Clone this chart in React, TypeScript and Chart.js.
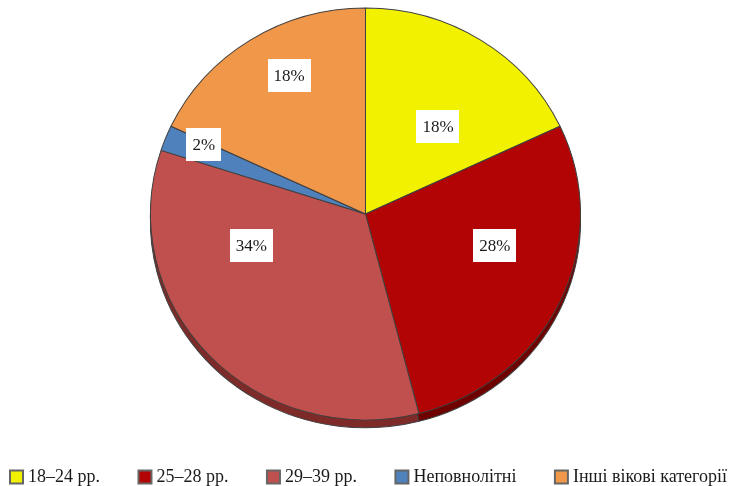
import React, { useEffect, useRef } from "react";
import { Chart, registerables } from "chart.js";

Chart.register(...registerables);

const categories = ["18–24 рр.", "25–28 рр.", "29–39 рр.", "Неповнолітні", "Інші вікові категорії"];
const shares = [18, 28, 34, 2, 18];
const sliceColors = ["#F2F200", "#B20404", "#C0504D", "#4F81BD", "#F0974A"];
const rimColors = ["#A8A800", "#6E0000", "#7E2A28", "#2F527E", "#A85F26"];

// label placement: angle (deg clockwise from top) and fraction of radius
const labelPlacement = [
  { a: 40, r: 0.535 },
  { a: 104, r: 0.632 },
  { a: 254, r: 0.563 },
  { a: 293, r: 0.833 },
  { a: 331, r: 0.746 },
];

const FONT = "'Liberation Serif', 'DejaVu Serif', serif";
const SCALE_X = 215 / 211;
const SCALE_Y = 206 / 211;

const ellipsePlugin = {
  id: "ellipse",
  beforeDatasetsDraw(chart: any) {
    const arc = chart.getDatasetMeta(0).data[0];
    const ctx = chart.ctx;
    ctx.save();
    if (arc) {
      ctx.translate(arc.x, arc.y);
      ctx.scale(SCALE_X, SCALE_Y);
      ctx.translate(-arc.x, -arc.y);
    }
  },
  afterDatasetsDraw(chart: any) {
    chart.ctx.restore();
  },
};

const rimPlugin = {
  id: "rim",
  beforeDatasetsDraw(chart: any) {
    const meta = chart.getDatasetMeta(0);
    const ctx = chart.ctx;
    ctx.save();
    meta.data.forEach((arc: any, i: number) => {
      const { x, y, startAngle, endAngle, outerRadius } = arc.getProps(
        ["x", "y", "startAngle", "endAngle", "outerRadius"],
        true
      );
      ctx.beginPath();
      ctx.moveTo(x, y + 8);
      ctx.arc(x, y + 8, outerRadius, startAngle, endAngle);
      ctx.closePath();
      ctx.fillStyle = rimColors[i];
      ctx.fill();
      ctx.strokeStyle = "#404040";
      ctx.lineWidth = 1;
      ctx.stroke();
    });
    ctx.restore();
  },
};

const labelPlugin = {
  id: "sliceLabels",
  afterDatasetsDraw(chart: any) {
    const meta = chart.getDatasetMeta(0);
    const ctx = chart.ctx;
    ctx.save();
    ctx.font = `17px ${FONT}`;
    ctx.textAlign = "center";
    ctx.textBaseline = "middle";
    meta.data.forEach((arc: any, i: number) => {
      const { x, y, outerRadius } = arc.getProps(["x", "y", "outerRadius"], true);
      const p = labelPlacement[i];
      const ang = (p.a * Math.PI) / 180;
      const lx = x + Math.sin(ang) * outerRadius * p.r;
      const ly = y - 1 - Math.cos(ang) * outerRadius * p.r;
      const text = `${shares[i]}%`;
      const w = ctx.measureText(text).width + 12;
      const h = 33;
      ctx.fillStyle = "#FFFFFF";
      ctx.fillRect(Math.round(lx - w / 2), Math.round(ly - h / 2), Math.round(w), h);
      ctx.fillStyle = "#1a1a1a";
      ctx.fillText(text, lx, ly + 1);
    });
    ctx.restore();
  },
};

const legendPlugin = {
  id: "bottomLegend",
  afterDraw(chart: any) {
    const ctx = chart.ctx;
    ctx.save();
    ctx.font = `18px ${FONT}`;
    ctx.textBaseline = "middle";
    ctx.textAlign = "left";
    const box = 13;
    const textGap = 5;
    const widths = categories.map((c) => box + textGap + ctx.measureText(c).width);
    const left = 10;
    const right = 727;
    const total = widths.reduce((s, w) => s + w, 0);
    const gap = (right - left - total) / (categories.length - 1);
    const yMid = 477;
    let x = left;
    categories.forEach((c, i) => {
      ctx.fillStyle = sliceColors[i];
      ctx.fillRect(x, yMid - box / 2, box, box);
      ctx.strokeStyle = "#666666";
      ctx.lineWidth = 2;
      ctx.strokeRect(x, yMid - box / 2, box, box);
      ctx.fillStyle = "#1a1a1a";
      ctx.fillText(c, x + box + textGap, yMid);
      x += widths[i] + gap;
    });
    ctx.restore();
  },
};

export default function App() {
  const ref = useRef<HTMLCanvasElement | null>(null);

  useEffect(() => {
    if (!ref.current) return;
    const chart = new Chart(ref.current, {
      type: "pie",
      data: {
        labels: categories,
        datasets: [
          {
            data: shares,
            backgroundColor: sliceColors,
            borderColor: "#404040",
            borderWidth: 1,
            radius: 211,
          },
        ],
      },
      options: {
        responsive: false,
        animation: false,
        layout: { padding: { top: 0, bottom: 58, left: 0, right: 0 } },
        plugins: {
          tooltip: { enabled: false },
          legend: { display: false },
        },
      },
      plugins: [ellipsePlugin, rimPlugin, labelPlugin, legendPlugin],
    });
    return () => chart.destroy();
  }, []);

  return (
    <div style={{ position: "fixed", left: 0, top: 0, width: 731, height: 486, overflow: "hidden", background: "#fff" }}>
      <canvas ref={ref} width={731} height={486} />
    </div>
  );
}
